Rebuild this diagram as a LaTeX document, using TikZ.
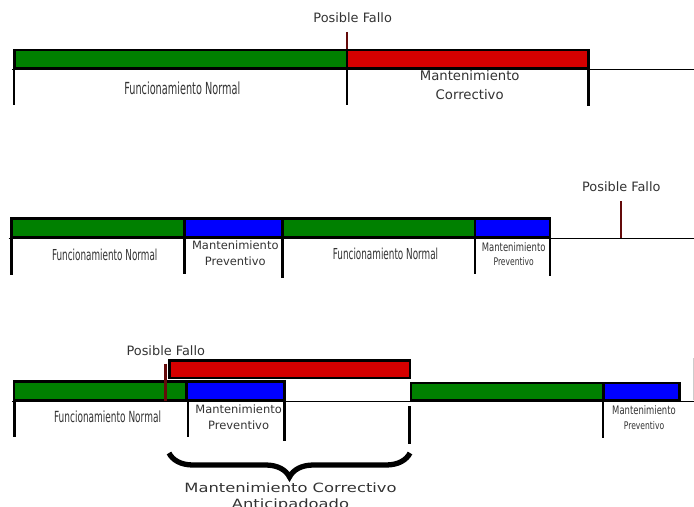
\documentclass[tikz,border=0pt]{standalone}
\usepackage{fontspec}
\setmainfont{DejaVu Sans}
\newfontfamily\narrowfont[FakeStretch=0.585]{DejaVu Sans}
\newfontfamily\slimfont[FakeStretch=0.72]{DejaVu Sans}
\newfontfamily\widefont[FakeStretch=1.28]{DejaVu Sans}
\usetikzlibrary{decorations.pathreplacing}
\definecolor{barGreen}{RGB}{0,128,0}
\definecolor{barRed}{RGB}{212,0,0}
\definecolor{barBlue}{RGB}{0,0,255}
\definecolor{falloRed}{RGB}{100,10,10}

\begin{document}
\begin{tikzpicture}[x=0.03cm, y=0.03cm]
\tikzstyle{every node}+=[inner sep=0pt, text=black!80]
\tikzstyle{bar}=[draw=black, line width=2.2pt]
\tikzstyle{axis}=[black, line width=1.5pt]
\tikzstyle{limit}=[black, line width=2.2pt]
\tikzstyle{fallo}=[falloRed, line width=2pt]
\tikzstyle{tramo}=[anchor=base, align=center]
\useasboundingbox (0,0) rectangle (694,-507);
\clip (0,0) rectangle (694,-507);
\draw [fallo] (347,-32) -- (347,-50);
\draw [axis] (12,-69.5) -- (694,-69.5);
\draw [bar, fill=barGreen] (14.5,-50) rectangle (347,-68);
\draw [bar, fill=barRed] (347,-50) rectangle (588.3,-68);
\draw [limit] (14,-68) -- (14,-105);
\draw [limit] (347,-68) -- (347,-105);
\draw [limit] (588.3,-68) -- (588.3,-106);
\draw (352.7,-22.3) node [anchor=base, font=\fontsize{11}{13}\selectfont] (fallo1) {Posible Fallo};
\draw (182.3,-95) node [anchor=base, font=\narrowfont\fontsize{14.2}{16}\selectfont] (normal1) {Funcionamiento Normal};
\draw (469.7,-99.3) node [tramo, font=\fontsize{11.3}{16}\selectfont] (correctivo1) {Mantenimiento\\Correctivo};
\draw [fallo] (621,-201) -- (621,-238.5);
\draw [axis] (8.5,-238.5) -- (694,-238.5);
\draw [bar, fill=barGreen] (11.5,-218.3) rectangle (184.5,-237);
\draw [bar, fill=barBlue] (184.5,-218.3) rectangle (282.5,-237);
\draw [bar, fill=barGreen] (282.5,-218.3) rectangle (475,-237);
\draw [bar, fill=barBlue] (475,-218.3) rectangle (550,-237);
\draw [limit] (11.5,-237) -- (11.5,-275);
\draw [limit] (184.5,-237) -- (184.5,-274.3);
\draw [limit] (282.5,-237) -- (282.5,-277.7);
\draw [limit] (475,-237) -- (475,-274.3);
\draw [limit] (550,-237) -- (550,-275.7);
\draw (621.3,-191.7) node [anchor=base, font=\fontsize{11}{13}\selectfont] (fallo2) {Posible Fallo};
\draw (104.7,-260) node [anchor=base, font=\narrowfont\fontsize{12.9}{15}\selectfont] (normal2) {Funcionamiento Normal};
\draw (235.3,-265.7) node [tramo, font=\fontsize{9.8}{14}\selectfont] (preventivo2) {Mantenimiento\\Preventivo};
\draw (385.5,-259) node [anchor=base, font=\narrowfont\fontsize{12.9}{15}\selectfont] (normal3) {Funcionamiento Normal};
\draw (513.7,-265.7) node [tramo, font=\slimfont\fontsize{10}{11.7}\selectfont] (preventivo3) {Mantenimiento\\\fontsize{9}{11.7}\selectfont Preventivo};
\draw [axis] (12,-401.5) -- (694,-401.5);
\draw [bar, fill=barRed] (169.3,-360.7) rectangle (410,-378);
\draw [bar, fill=barGreen] (14,-381.3) rectangle (186,-400);
\draw [bar, fill=barBlue] (186.5,-381.5) rectangle (284.3,-400);
\draw [bar, fill=barGreen] (411,-383) rectangle (603.3,-400);
\draw [bar, fill=barBlue] (603.3,-383) rectangle (679.5,-400);
\draw [fallo] (165.5,-363.5) -- (165.5,-401);
\draw [limit] (14.3,-400) -- (14.3,-437.3);
\draw [limit] (188,-400) -- (188,-437.3);
\draw [limit] (284.7,-400) -- (284.7,-440.7);
\draw [limit] (409.7,-406) -- (409.7,-444.3);
\draw [limit] (602.8,-400) -- (602.8,-438.3);
\draw [black!20, line width=0.6pt] (693,-358) -- (693,-400);
\draw (165.8,-355.7) node [anchor=base, font=\fontsize{11}{13}\selectfont] (fallo3) {Posible Fallo};
\draw (107.5,-422) node [anchor=base, font=\narrowfont\fontsize{13.1}{15}\selectfont] (normal4) {Funcionamiento Normal};
\draw (238.6,-429.3) node [tramo, font=\fontsize{9.8}{13.3}\selectfont] (preventivo4) {Mantenimiento\\Preventivo};
\draw (644,-429.3) node [tramo, font=\slimfont\fontsize{10}{12.6}\selectfont] (preventivo5) {Mantenimiento\\\fontsize{9}{12.6}\selectfont Preventivo};
\draw [black, line width=4.5pt, decorate, decoration={brace, amplitude=0.72cm}] (410,-453) -- (169,-453);
\draw (290.5,-508.6) node [tramo, font=\widefont\fontsize{10.9}{13.6}\selectfont] (anticipado) {Mantenimiento Correctivo\\Anticipadoado};
\end{tikzpicture}
\end{document}
